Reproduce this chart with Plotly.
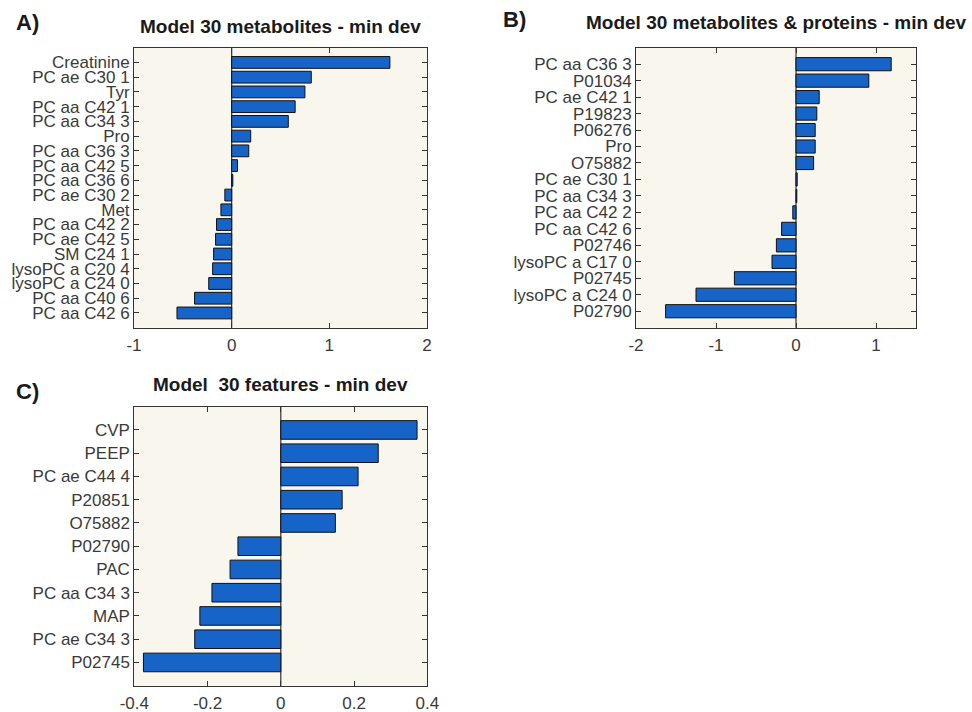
import plotly.graph_objects as go

# Panel A
a_labels = ["Creatinine", "PC ae C30 1", "Tyr", "PC aa C42 1", "PC aa C34 3", "Pro",
            "PC aa C36 3", "PC aa C42 5", "PC aa C36 6", "PC ae C30 2", "Met",
            "PC aa C42 2", "PC ae C42 5", "SM C24 1", "lysoPC a C20 4",
            "lysoPC a C24 0", "PC aa C40 6", "PC aa C42 6"]
a_values = [1.62, 0.815, 0.75, 0.65, 0.58, 0.195, 0.175, 0.06, 0.012, -0.07, -0.11,
            -0.155, -0.165, -0.185, -0.195, -0.235, -0.38, -0.56]

# Panel B
b_labels = ["PC aa C36 3", "P01034", "PC ae C42 1", "P19823", "P06276", "Pro", "O75882",
            "PC ae C30 1", "PC aa C34 3", "PC aa C42 2", "PC aa C42 6", "P02746",
            "lysoPC a C17 0", "P02745", "lysoPC a C24 0", "P02790"]
b_values = [1.19, 0.91, 0.29, 0.26, 0.24, 0.24, 0.22, 0.015, 0.01, -0.04, -0.18, -0.245,
            -0.30, -0.77, -1.25, -1.63]

# Panel C
c_labels = ["CVP", "PEEP", "PC ae C44 4", "P20851", "O75882", "P02790", "PAC",
            "PC aa C34 3", "MAP", "PC ae C34 3", "P02745"]
c_values = [0.372, 0.266, 0.211, 0.1675, 0.149, -0.117, -0.1385, -0.188, -0.221, -0.235, -0.375]

titles = ["Model 30 metabolites - min dev",
          "Model 30 metabolites &amp; proteins - min dev",
          "Model\u00a0\u00a030 features - min dev"]
letters = ["A)", "B)", "C)"]

W, H = 972, 712
BG = "#F9F6EE"
BAR = "#1764C8"
AX = "#333333"
FONT = "Liberation Sans, Arial, Helvetica, sans-serif"
TXT = "#3a3a3a"

panels = [
    dict(labels=a_labels, values=a_values, px=(134, 427), py=(47.7, 327.7), ty=26,
         xrange=[-1, 2], xticks=[-1, 0, 1, 2], xtext=["-1", "0", "1", "2"]),
    dict(labels=b_labels, values=b_values, px=(636, 916), py=(47.7, 327.7), ty=22,
         xrange=[-2, 1.5], xticks=[-2, -1, 0, 1], xtext=["-2", "-1", "0", "1"]),
    dict(labels=c_labels, values=c_values, px=(134.3, 427.3), py=(406.7, 685.7), ty=384.5,
         xrange=[-0.4, 0.4], xticks=[-0.4, -0.2, 0, 0.2, 0.4],
         xtext=["-0.4", "-0.2", "0", "0.2", "0.4"]),
]

fig = go.Figure()
layout = dict(width=W, height=H, margin=dict(l=0, r=0, t=0, b=0, autoexpand=False),
              paper_bgcolor="white", plot_bgcolor="white", showlegend=False,
              font=dict(family=FONT, size=17, color=TXT))
annotations = []
shapes = []

for i, p in enumerate(panels, start=1):
    xa = "x" if i == 1 else f"x{i}"
    ya = "y" if i == 1 else f"y{i}"
    n = len(p["labels"])
    fig.add_trace(go.Bar(
        x=p["values"], y=p["labels"], orientation="h", width=0.8,
        marker=dict(color=BAR, line=dict(color="#111111", width=1)),
        xaxis=xa, yaxis=ya, hoverinfo="x+y"))
    xd = [p["px"][0] / W, p["px"][1] / W]
    yd = [1 - p["py"][1] / H, 1 - p["py"][0] / H]
    layout["xaxis" + ("" if i == 1 else str(i))] = dict(
        domain=xd, anchor=ya, range=p["xrange"], tickmode="array",
        tickvals=p["xticks"], ticktext=p["xtext"], automargin=False,
        ticks="inside", ticklen=5, tickcolor=AX, showline=True, linecolor=AX, linewidth=1,
        mirror="ticks", showgrid=False, zeroline=False, ticklabelstandoff=2,
        tickfont=dict(family=FONT, size=17, color=TXT))
    layout["yaxis" + ("" if i == 1 else str(i))] = dict(
        domain=yd, anchor=xa, type="category", categoryorder="array",
        categoryarray=p["labels"], range=[n, -1], tickmode="array",
        tickvals=p["labels"], ticktext=p["labels"], automargin=False,
        ticks="inside", ticklen=5, tickcolor=AX, showline=True, linecolor=AX, linewidth=1,
        mirror="ticks", showgrid=False, zeroline=False,
        tickfont=dict(family=FONT, size=17, color=TXT))
    shapes.append(dict(type="rect", xref=f"{xa} domain", yref=f"{ya} domain",
                       x0=0, x1=1, y0=0, y1=1, fillcolor=BG, line=dict(width=0),
                       layer="below"))
    shapes.append(dict(type="line", xref=xa, yref=f"{ya} domain", x0=0, x1=0, y0=0, y1=1,
                       line=dict(color="#333333", width=1.2), layer="below"))
    xc = (p["px"][0] + p["px"][1]) / 2 / W
    annotations.append(dict(text="<b>" + titles[i - 1] + "</b>", xref="paper", yref="paper",
                            x=xc, y=1 - p["ty"] / H, xanchor="center",
                            yanchor="middle", showarrow=False,
                            font=dict(family=FONT, size=19, color="#1a1a1a")))

letter_pos = [(27, 22), (514, 20), (27, 391)]
for t, (lx, ly) in zip(letters, letter_pos):
    annotations.append(dict(text="<b>" + t + "</b>", xref="paper", yref="paper",
                            x=lx / W, y=1 - ly / H, xanchor="center", yanchor="middle",
                            showarrow=False, font=dict(family=FONT, size=22, color="#1a1a1a")))

layout["annotations"] = annotations
layout["shapes"] = shapes
fig.update_layout(**layout)
fig.write_html("out.html")
